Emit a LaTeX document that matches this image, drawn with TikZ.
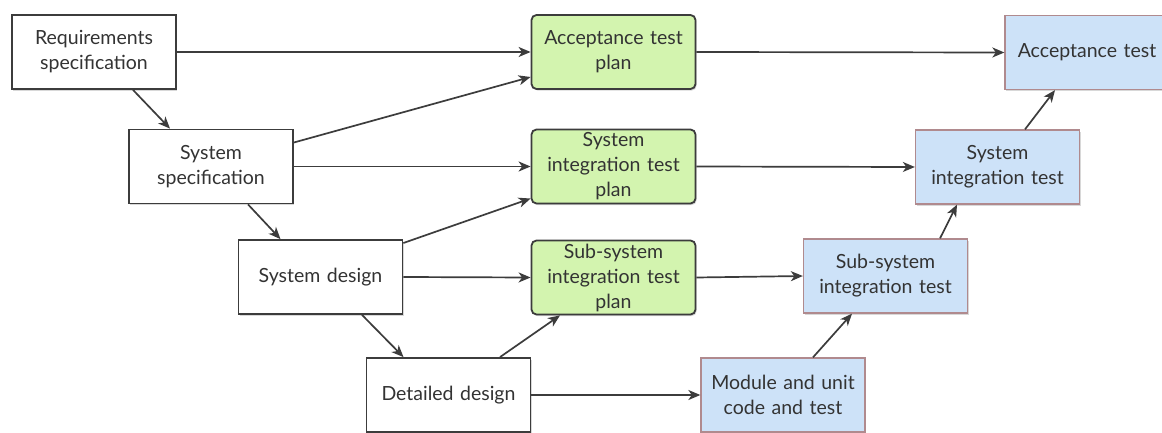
\documentclass[tikz,border=0pt]{standalone}
\usepackage{fontspec}
\setmainfont{Lato}
\usetikzlibrary{arrows.meta,shadows}
\definecolor{txt}{HTML}{333333}
\definecolor{edge}{HTML}{3C3C3C}
\definecolor{planfill}{HTML}{D3F4AF}
\definecolor{testfill}{HTML}{CDE2F8}
\definecolor{testedge}{HTML}{B08A8E}
\tikzset{
  box/.style={minimum width=164pt, minimum height=74pt, inner sep=0pt,
    text width=152pt, align=center, text=txt,
    font=\fontsize{19.5}{25}\selectfont, line width=1.8pt,
    drop shadow={shadow xshift=1.2pt, shadow yshift=-1.6pt, opacity=0.25, fill=black!60}},
  spec/.style={box, draw=edge, fill=white},
  plan/.style={box, draw=edge, fill=planfill, rounded corners=5pt},
  vtest/.style={box, draw=testedge, line width=1.3pt, fill=testfill},
  flow/.style={draw=edge, line width=1.7pt, -{Stealth[length=12pt, width=10pt, inset=3.5pt]}}
}
\begin{document}
\begin{tikzpicture}[x=1pt, y=-1pt]
  \fill[white] (0,0) rectangle (1162,433);
  \useasboundingbox (0,0) rectangle (1162,433);

  % design side
  \node[spec] (req) at (94,52)    {Requirements\\specification};
  \node[spec] (ss)  at (211,166.5) {System\\specification};
  \node[spec] (sd)  at (320.5,277) {System design};
  \node[spec] (dd)  at (448.5,395) {Detailed design};

  % test plans
  \node[plan] (atp)  at (613.5,52)    {Acceptance test\\plan};
  \node[plan] (sitp) at (613.5,166.5) {System\\integration test\\plan};
  \node[plan] (ssp)  at (613.5,277.5) {Sub-system\\integration test\\plan};

  % test side
  \node[vtest] (at)  at (1087,52.5)  {Acceptance test};
  \node[vtest] (sit) at (997.5,167)  {System\\integration test};
  \node[vtest] (sst) at (885.5,276)  {Sub-system\\integration test};
  \node[vtest] (mod) at (783,395)    {Module and unit\\code and test};

  % refinement steps
  \draw[flow] ([xshift=39pt]req.south) -- ([xshift=-41pt]ss.north);
  \draw[flow] ([xshift=37pt]ss.south) -- ([xshift=-40pt]sd.north);
  \draw[flow] ([xshift=41.5pt]sd.south) -- ([xshift=-45pt]dd.north);

  % design to test plans
  \draw[flow] (req.east) -- (atp.west);
  \draw[flow] ([yshift=24pt]ss.east) -- ([yshift=-25pt]atp.west);
  \draw[flow] (ss.east) -- (sitp.west);
  \draw[flow] ([yshift=34pt]sd.east) -- ([yshift=-32pt]sitp.west);
  \draw[flow] (sd.east) -- (ssp.west);
  \draw[flow] ([xshift=51.5pt]dd.north) -- ([xshift=-53.5pt]ssp.south);
  \draw[flow] (dd.east) -- (mod.west);

  % test plans to tests
  \draw[flow] (atp.east) -- (at.west);
  \draw[flow] (sitp.east) -- (sit.west);
  \draw[flow] (ssp.east) -- (sst.west);

  % integration chain
  \draw[flow] ([xshift=30pt]mod.north) -- ([xshift=-33.5pt]sst.south);
  \draw[flow] ([xshift=54.5pt]sst.north) -- ([xshift=-40.5pt]sit.south);
  \draw[flow] ([xshift=27.5pt]sit.north) -- ([xshift=-32pt]at.south);
\end{tikzpicture}
\end{document}
